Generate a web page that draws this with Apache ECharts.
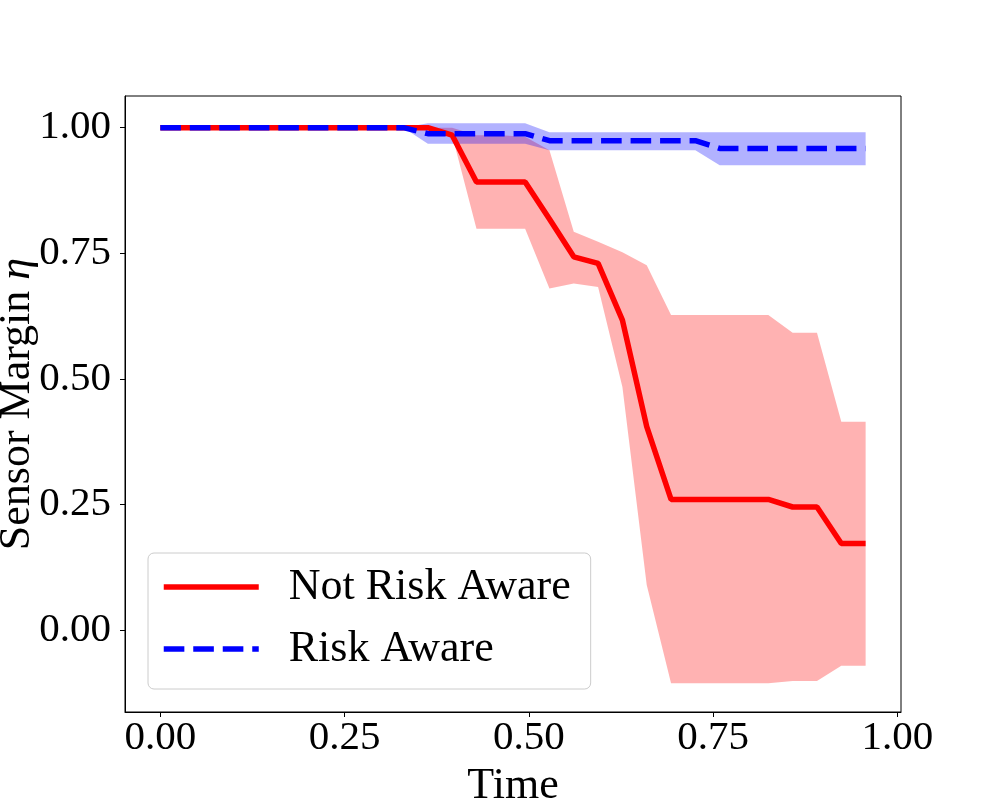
<!DOCTYPE html>
<html>
<head>
<meta charset="utf-8">
<script src="https://cdn.jsdelivr.net/npm/echarts@6/dist/echarts.min.js"></script>
<style>
  html, body { margin: 0; padding: 0; background: #fff; }
  #main { width: 1000px; height: 800px; }
</style>
</head>
<body>
<div id="main"></div>
<script>
// time steps
var times = [0, 0.033, 0.066, 0.099, 0.132, 0.165, 0.198, 0.231, 0.264, 0.297,
             0.33, 0.363, 0.396, 0.429, 0.462, 0.495, 0.528, 0.561, 0.594, 0.627,
             0.66, 0.693, 0.726, 0.759, 0.792, 0.825, 0.858, 0.891, 0.924, 0.957];

// not risk aware: mean, upper, lower
var naMean  = [1, 1, 1, 1, 1, 1, 1, 1, 1, 1, 1, 1, 0.985, 0.892, 0.892, 0.892, 0.818, 0.743, 0.730, 0.617,
               0.405, 0.260, 0.260, 0.260, 0.260, 0.260, 0.245, 0.245, 0.1725, 0.1725];
var naUpper = [1, 1, 1, 1, 1, 1, 1, 1, 1, 1, 1, 1, 1, 0.985, 0.985, 0.982, 0.955, 0.793, 0.773, 0.752,
               0.726, 0.627, 0.627, 0.627, 0.627, 0.627, 0.592, 0.592, 0.4146, 0.4146];
var naLower = [1, 1, 1, 1, 1, 1, 1, 1, 1, 1, 1, 1, 0.985, 0.799, 0.799, 0.799, 0.680, 0.690, 0.683, 0.484,
               0.0896, -0.106, -0.106, -0.106, -0.106, -0.106, -0.1015, -0.1015, -0.071, -0.071];

// risk aware: mean, upper, lower
var raMean  = [1, 1, 1, 1, 1, 1, 1, 1, 1, 1, 1, 0.988, 0.988, 0.988, 0.988, 0.988, 0.974, 0.974, 0.974, 0.974,
               0.974, 0.974, 0.974, 0.9586, 0.9586, 0.9586, 0.9586, 0.9586, 0.9586, 0.9586];
var raUpper = [1, 1, 1, 1, 1, 1, 1, 1, 1, 1, 1, 1.009, 1.009, 1.009, 1.009, 1.009, 0.991, 0.991, 0.991, 0.991,
               0.991, 0.991, 0.991, 0.991, 0.991, 0.991, 0.991, 0.991, 0.991, 0.991];
var raLower = [1, 1, 1, 1, 1, 1, 1, 1, 1, 1, 1, 0.968, 0.968, 0.968, 0.968, 0.968, 0.955, 0.955, 0.955, 0.955,
               0.955, 0.955, 0.955, 0.925, 0.925, 0.925, 0.925, 0.925, 0.925, 0.925];

var tickVals = [0, 0.25, 0.5, 0.75, 1];

var FONT = 'Liberation Serif';

function pairs(ys) {
    return times.map(function (t, i) { return [t, ys[i]]; });
}

// shaded band between lo and hi, drawn as one polygon through the axes
function band(name, lo, hi, color) {
    return {
        name: name, type: 'custom', silent: true, z: 1,
        data: times.map(function (t, i) { return [t, lo[i], hi[i]]; }),
        encode: { x: 0, y: [1, 2] },
        renderItem: function (params, api) {
            if (params.dataIndex !== 0) return null;
            var pts = [];
            for (var i = 0; i < times.length; i++) pts.push(api.coord([times[i], hi[i]]));
            for (var j = times.length - 1; j >= 0; j--) pts.push(api.coord([times[j], lo[j]]));
            return { type: 'polygon', shape: { points: pts }, style: { fill: color } };
        }
    };
}

var myChart = echarts.init(document.getElementById('main'));

var option = {
    animation: false,
    backgroundColor: '#fff',
    grid: {
        left: 125, right: 99, top: 96, bottom: 88,
        outerBoundsMode: 'none',
        show: true, borderColor: '#000', borderWidth: 1
    },
    legend: {
        data: ['Not Risk Aware', 'Risk Aware'],
        orient: 'vertical',
        left: 148, top: 553,
        padding: [9, 20, 15, 13],
        itemGap: 12,
        itemWidth: 95,
        itemHeight: 14,
        backgroundColor: 'rgba(255,255,255,0.8)',
        borderColor: '#cccccc',
        borderWidth: 1,
        borderRadius: 6,
        itemStyle: { opacity: 0 },
        lineStyle: { width: 5.5 },
        textStyle: { fontFamily: FONT, fontSize: 44, color: '#000', lineHeight: 50, padding: [0, 0, 0, 25] }
    },
    xAxis: {
        type: 'value',
        min: -0.0479, max: 1.005,
        name: 'Time',
        nameLocation: 'middle',
        nameGap: 52,
        nameMoveOverlap: false,
        nameTextStyle: { fontFamily: FONT, fontSize: 44, color: '#000' },
        splitLine: { show: false },
        axisLine: { show: true, onZero: false, lineStyle: { color: '#000', width: 1 } },
        axisTick: { show: true, length: 5, lineStyle: { color: '#000' }, customValues: tickVals },
        axisLabel: {
            fontFamily: FONT, fontSize: 41, color: '#000', margin: 6,
            customValues: tickVals,
            formatter: function (v) { return v.toFixed(2); }
        }
    },
    yAxis: {
        type: 'value',
        min: -0.163, max: 1.063,
        name: 'Sensor Margin {i|η}',
        nameLocation: 'middle',
        nameGap: 86,
        nameMoveOverlap: false,
        nameTextStyle: {
            fontFamily: FONT, fontSize: 44, color: '#000',
            rich: { i: { fontFamily: FONT, fontSize: 44, fontStyle: 'italic', color: '#000' } }
        },
        splitLine: { show: false },
        axisLine: { show: true, onZero: false, lineStyle: { color: '#000', width: 1 } },
        axisTick: { show: true, length: 5, lineStyle: { color: '#000' }, customValues: tickVals },
        axisLabel: {
            fontFamily: FONT, fontSize: 41, color: '#000', margin: 14,
            customValues: tickVals,
            formatter: function (v) { return v.toFixed(2); }
        }
    },
    series: [
        band('na_band', naLower, naUpper, 'rgba(255,0,0,0.3)'),
        band('ra_band', raLower, raUpper, 'rgba(0,0,255,0.3)'),
        {
            name: 'Not Risk Aware', type: 'line', data: pairs(naMean),
            symbol: 'none', z: 5,
            itemStyle: { color: '#ff0000' },
            lineStyle: { color: '#ff0000', width: 5.5 }
        },
        {
            name: 'Risk Aware', type: 'line', data: pairs(raMean),
            symbol: 'none', z: 6,
            itemStyle: { color: '#0000ff' },
            lineStyle: { color: '#0000ff', width: 5.5, type: [20.6, 8.9], cap: 'butt' }
        }
    ]
};

myChart.setOption(option);
</script>
</body>
</html>
